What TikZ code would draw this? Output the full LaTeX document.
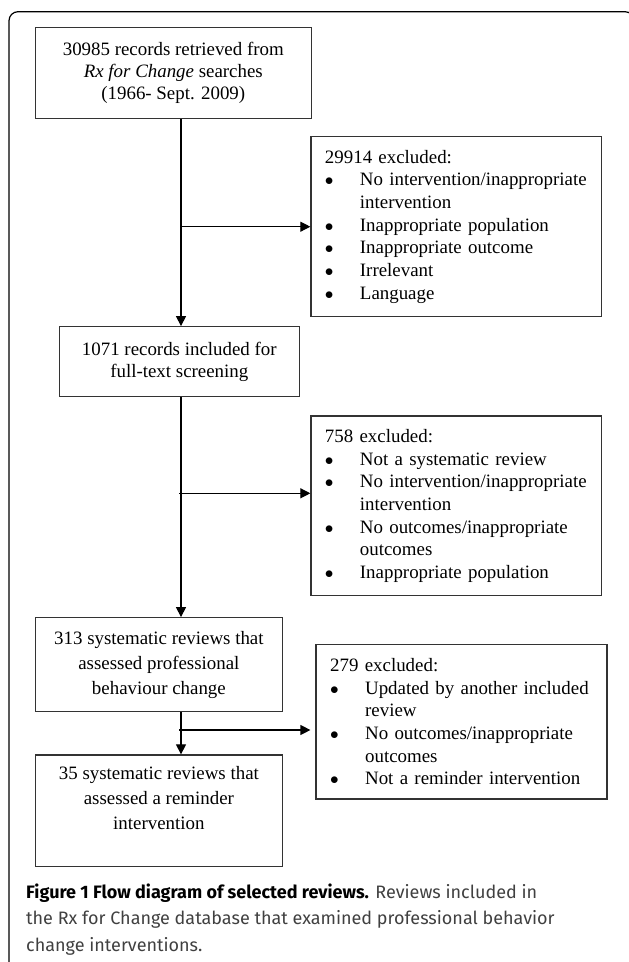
\documentclass[tikz,border=0pt]{standalone}
\usepackage{fontspec}
\setmainfont{Liberation Serif}
\newfontfamily\captionfont{Fira Sans}
\usepackage{tikz}
\usetikzlibrary{arrows.meta}
\usetikzlibrary{positioning}

\newcommand{\bul}{\makebox[35pt][l]{$\bullet$}}
\newcommand{\cont}{\hspace*{35pt}}

\begin{document}
\begin{tikzpicture}[
            x=1pt, y=-1pt,
            >={Triangle[length=10pt, width=10pt]},
            stage/.style={rectangle, draw=black!80, line width=1.2pt, align=center,
                            inner sep=0pt, font=\fontsize{18.9}{22}\selectfont},
            exclusion/.style={rectangle, draw=black!80, line width=1.2pt, align=left,
                            inner xsep=14pt, inner ysep=0pt, minimum width=290.7pt,
                            text width=262.7pt, font=\fontsize{18.9}{22.7}\selectfont},
            caption/.style={align=left, inner sep=0pt, text=black!75,
                            font=\captionfont\fontsize{18}{26.7}\selectfont},
            connector/.style={->, line width=1.2pt},
        ]

        % Page area and outer frame
        \useasboundingbox (0,0) rectangle (629,962);
        \clip (0,0) rectangle (629,962);
        \draw[line width=1.2pt, rounded corners=9pt] (9,11.7) rectangle (634,1000);

        % Main column
        \node[stage, minimum width=276pt, minimum height=90.6pt] (records_retrieved) at (173.3, 73) {
            30985 records retrieved from \\ \textit{Rx for Change} searches \\ (1966- Sept. 2009)
        };
        \node[stage, minimum width=239.8pt, minimum height=70pt] (fulltext_screening) at (179.3, 361.7) {
            1071 records included for \\ full-text screening
        };
        \node[stage, minimum width=247.1pt, minimum height=94pt,
              font=\fontsize{18.9}{25}\selectfont] (behaviour_reviews) at (158.9, 664.7) {
            313 systematic reviews that \\ assessed professional \\ behaviour change
        };
        \node[stage, minimum width=247.1pt, minimum height=111.7pt,
              font=\fontsize{18.9}{25}\selectfont] (reminder_reviews) at (158.9, 810.8) {
            35 systematic reviews that \\ assessed a reminder \\ intervention \\ \mbox{}
        };

        % Exclusion boxes (right)
        \node[exclusion, minimum height=180pt] (excluded_search) at (456.3, 226.7) {
            29914 excluded: \\
            \bul No intervention/inappropriate \\ \cont intervention \\
            \bul Inappropriate population \\
            \bul Inappropriate outcome \\
            \bul Irrelevant \\
            \bul Language
        };
        \node[exclusion, minimum height=179.7pt] (excluded_fulltext) at (456.3, 505.9) {
            758 excluded: \\
            \bul Not a systematic review \\
            \bul No intervention/inappropriate \\ \cont intervention \\
            \bul No outcomes/inappropriate \\ \cont outcomes \\
            \bul Inappropriate population
        };
        \node[exclusion, minimum height=154.7pt, minimum width=291pt] (excluded_reviews) at (461.5, 721.7) {
            279 excluded: \\
            \bul Updated by another included \\ \cont review \\
            \bul No outcomes/inappropriate \\ \cont outcomes \\
            \bul Not a reminder intervention
        };

        % Flow line and branch points
        \coordinate (spine) at (181, 0);
        \coordinate (branch_b) at (179.3, 493.3);
        \coordinate (branch_c) at (179.3, 730);

        \draw[connector] (spine |- records_retrieved.south) -- (spine |- fulltext_screening.north);
        \draw[connector] (spine |- fulltext_screening.south) -- (spine |- behaviour_reviews.north);
        \draw[connector] (spine |- behaviour_reviews.south) -- (spine |- reminder_reviews.north);

        \draw[connector] (spine |- excluded_search.west) -- (excluded_search.west);
        \draw[connector] (branch_b) -- (branch_b -| excluded_fulltext.west);
        \draw[connector] (branch_c) -- ([xshift=-5pt]branch_c -| excluded_reviews.west);

        % Caption (base anchor sits on the last line)
        \node[caption, anchor=base west] (caption_text) at (26, 951.4) {
            \textbf{\color{black}Figure 1 Flow diagram of selected reviews.} Reviews included in \\
            the Rx for Change database that examined professional behavior \\
            change interventions.
        };

        \end{tikzpicture}
\end{document}
